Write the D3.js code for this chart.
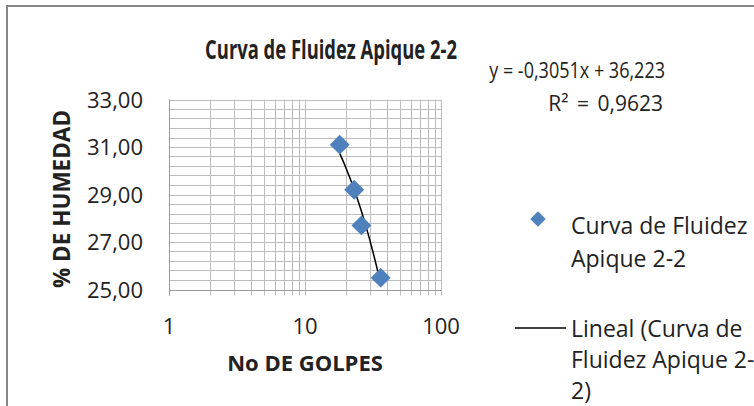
<!DOCTYPE html>
<html>
<head>
<meta charset="utf-8">
<script src="https://cdn.jsdelivr.net/npm/d3@7"></script>
<style>
  body { margin: 0; background: #fff; }
  text { font-family: "Open Sans", "Noto Sans", sans-serif; fill: #222; }
</style>
</head>
<body>
<div id="chart"></div>
<script>
// data
var golpes = [18, 23, 26, 36];
var humedad = [31.1, 29.2, 27.7, 25.5];
var yTicks = [25, 27, 29, 31, 33];
var xTicks = [1, 10, 100];
var slope = -0.3051, intercept = 36.223, r2 = 0.9623;

var width = 754, height = 406;

var svg = d3.select("#chart")
    .append("svg")
    .attr("width", width)
    .attr("height", height);

// chart area border
svg.append("rect")
    .attr("x", 7).attr("y", 6)
    .attr("width", 780).attr("height", 420)
    .attr("fill", "none")
    .attr("stroke", "#878787")
    .attr("stroke-width", 2);

var x = d3.scaleLog().domain([1, 100]).range([169, 441]);
var y = d3.scaleLinear().domain([25, 33]).range([289.5, 99.5]);

// minor + major gridlines
var xGrid = [];
for (var k = 1; k <= 10; k++) xGrid.push(k);
for (var k = 20; k <= 100; k += 10) xGrid.push(k);
var yGrid = d3.range(0, 21).map(function(i) { return 25 + i * 0.4; });

var grid = svg.append("g").attr("stroke", "#bdbdbd").attr("stroke-width", 1);
grid.selectAll("line.v")
    .data(xGrid)
    .join("line")
    .attr("class", "v")
    .attr("x1", function(d) { return Math.round(x(d)) + 0.5; })
    .attr("x2", function(d) { return Math.round(x(d)) + 0.5; })
    .attr("y1", y(33)).attr("y2", y(25) + 6);
grid.selectAll("line.h")
    .data(yGrid)
    .join("line")
    .attr("class", "h")
    .attr("x1", x(1)).attr("x2", x(100))
    .attr("y1", function(d) { return Math.round(y(d)) + 0.5; })
    .attr("y2", function(d) { return Math.round(y(d)) + 0.5; });

// axis lines
svg.append("line")
    .attr("x1", Math.round(x(1)) + 0.5).attr("x2", Math.round(x(1)) + 0.5)
    .attr("y1", y(33)).attr("y2", y(25) + 6)
    .attr("stroke", "#9a9a9a");
svg.append("line")
    .attr("x1", x(1)).attr("x2", x(100))
    .attr("y1", Math.round(y(25)) + 0.5).attr("y2", Math.round(y(25)) + 0.5)
    .attr("stroke", "#9a9a9a");

// tick labels
svg.selectAll("text.yt")
    .data(yTicks)
    .join("text")
    .attr("class", "yt")
    .attr("x", 143)
    .attr("y", function(d) { return y(d) + 8; })
    .attr("text-anchor", "end")
    .style("font-size", "22px")
    .text(function(d) { return d.toFixed(2).replace(".", ","); });

svg.selectAll("text.xt")
    .data(xTicks)
    .join("text")
    .attr("class", "xt")
    .attr("x", function(d) { return x(d); })
    .attr("y", 334)
    .attr("text-anchor", "middle")
    .style("font-size", "22px")
    .text(function(d) { return d; });

// title: bold face, squeezed to the picture's width
var title = svg.append("text")
    .attr("text-anchor", "middle")
    .style("font-size", "26px").style("font-weight", "bold")
    .text("Curva de Fluidez Apique 2-2");
var tw = title.node().getComputedTextLength();
title.attr("transform", "translate(331,59) scale(" + (252 / tw).toFixed(3) + ",1)");

svg.append("text")
    .attr("x", 305).attr("y", 371)
    .attr("text-anchor", "middle")
    .style("font-size", "22px").style("font-weight", "bold")
    .text("No DE GOLPES");

svg.append("text")
    .attr("transform", "translate(70,199) rotate(-90)")
    .attr("text-anchor", "middle")
    .style("font-size", "22.5px").style("font-weight", "bold")
    .text("% DE HUMEDAD");

// trend line (linear in x, drawn on log axis)
var xs = d3.extent(golpes);
var trend = d3.range(0, 41).map(function(i) {
    var gx = xs[0] + (xs[1] - xs[0]) * i / 40;
    return [gx, slope * gx + intercept];
});
svg.append("path")
    .datum(trend)
    .attr("fill", "none")
    .attr("stroke", "#000")
    .attr("stroke-width", 1.5)
    .attr("d", d3.line().x(function(d) { return x(d[0]); }).y(function(d) { return y(d[1]); }));

// points
var diamond = d3.symbol().type(d3.symbolSquare).size(200);
svg.selectAll("path.pt")
    .data(golpes)
    .join("path")
    .attr("class", "pt")
    .attr("d", diamond)
    .attr("transform", function(d, i) { return "translate(" + x(d) + "," + y(humedad[i]) + ") rotate(45)"; })
    .attr("fill", "#4f81bd");

// trend equation
var eq = svg.append("text")
    .attr("text-anchor", "end")
    .style("font-size", "22px")
    .text("y = " + String(slope).replace(".", ",") + "x + " + String(intercept).replace(".", ","));
var ew = eq.node().getComputedTextLength();
eq.attr("transform", "translate(665,78) scale(" + (176 / ew).toFixed(3) + ",1)");
svg.append("text")
    .attr("x", 663).attr("y", 111)
    .attr("text-anchor", "end")
    .style("font-size", "21px")
    .style("word-spacing", "3px")
    .text("R² = " + String(r2).replace(".", ","));

// legend
svg.append("path")
    .attr("d", d3.symbol().type(d3.symbolSquare).size(120))
    .attr("transform", "translate(538,219) rotate(45)")
    .attr("fill", "#4f81bd");
var leg1 = ["Curva de Fluidez", "Apique 2-2"];
svg.selectAll("text.l1")
    .data(leg1)
    .join("text")
    .attr("class", "l1")
    .attr("x", 571)
    .attr("y", function(d, i) { return 234 + i * 33; })
    .style("font-size", "23px")
    .text(function(d) { return d; });

svg.append("line")
    .attr("x1", 515).attr("x2", 566)
    .attr("y1", 328).attr("y2", 328)
    .attr("stroke", "#000").attr("stroke-width", 1.5);
var leg2 = ["Lineal (Curva de", "Fluidez Apique 2-", "2)"];
svg.selectAll("text.l2")
    .data(leg2)
    .join("text")
    .attr("class", "l2")
    .attr("x", 571)
    .attr("y", function(d, i) { return 337 + i * 31; })
    .style("font-size", "23px")
    .text(function(d) { return d; });
</script>
</body>
</html>
